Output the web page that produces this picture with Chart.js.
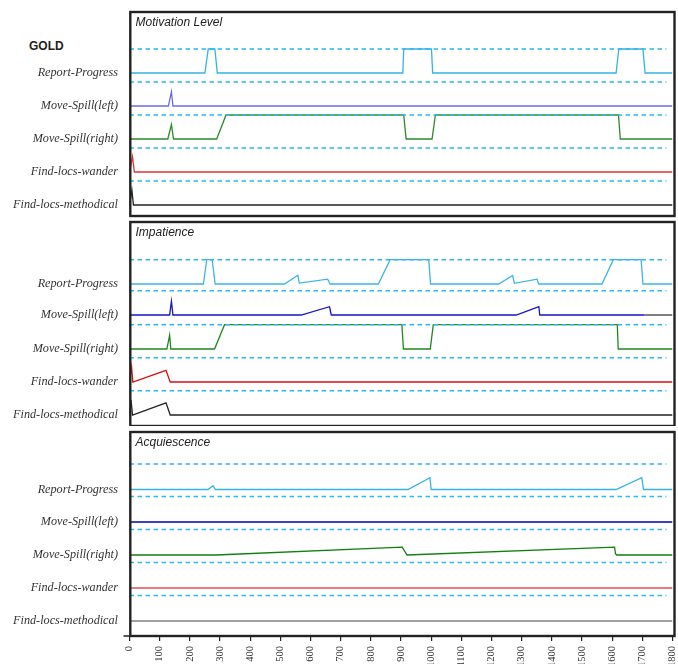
<!DOCTYPE html>
<html>
<head>
<meta charset="utf-8">
<script src="https://cdn.jsdelivr.net/npm/chart.js@4.4.1/dist/chart.umd.min.js"></script>
<style>
  html, body { margin: 0; padding: 0; background: #ffffff; }
  #wrap { position: relative; width: 678px; height: 664px; overflow: hidden; background: #fff; }
  canvas { position: absolute; left: 0; }
  #gold { position: absolute; left: 29px; top: 40px; font: bold 12px "Liberation Sans", Arial, sans-serif; color: #222; line-height: 13px; }
</style>
</head>
<body>
<div id="wrap">
  <div id="gold">GOLD</div>
  <canvas id="c1" width="678" height="219" style="top:0px"></canvas>
  <canvas id="c2" width="678" height="208" style="top:218px"></canvas>
  <canvas id="c3" width="678" height="238" style="top:426px"></canvas>
</div>
<script>
// ---------------- data ----------------
const ROW_NAMES = ['Report-Progress', 'Move-Spill(left)', 'Move-Spill(right)', 'Find-locs-wander', 'Find-locs-methodical'];
const PANEL_TITLES = ['Motivation Level', 'Impatience', 'Acquiescence'];
const X_TICKS = [0,100,200,300,400,500,600,700,800,900,1000,1100,1200,1300,1400,1500,1600,1700,1800];
const CEILING = 1;   // level of the dashed reference line of each row
const X_END = 1800;
const DASH_END = 1780;

// Motivation Level  ([time, level])
const motReport = [[0,0],[250,0],[261,1],[283,1],[291,0],[906,0],[909,1],[1001,1],[1005,0],[1613,0],[1622,1],[1702,1],[1709,0],[1800,0]];
const motLeft = [[0,0],[129,0],[139,0.6],[144,0],[1800,0]];
const motRight = [[0,0],[127,0],[139,0.6],[146,0],[289,0],[320,1],[909,1],[917,0],[1003,0],[1014,1],[1621,1],[1627,0],[1800,0]];
const motWander = [[0,0],[10,0.64],[16,0],[1800,0]];
const motMethodical = [[0,0],[8,0.62],[13,0],[1800,0]];

// Impatience
const impReport = [[0,0],[245,0],[256,1],[274,1],[284,0],[514,0],[558,0.36],[563,0.04],[657,0.2],[665,0],[825,0],[864,1],[992,1],[998,0],[1224,0],[1270,0.35],[1276,0.03],[1351,0.2],[1356,0],[1566,0],[1604,1],[1696,1],[1702,0],[1800,0]];
const impLeft = [[0,0],[133,0],[139,0.57],[144,0],[569,0],[663,0.34],[669,0],[1282,0],[1357,0.34],[1360,0],[1707,0]];
const impLeftTail = [[1707,0],[1800,0]];
const impRight = [[0,0],[124,0],[133,0.57],[137,0],[282,0],[315,1],[903,1],[908,0],[997,0],[1007,1],[1617,1],[1620,0],[1800,0]];
const impWander = [[0,0],[7,0.6],[11,0],[121,0.48],[135,0],[1800,0]];
const impMethodical = [[0,0],[5,0.62],[10,0],[121,0.5],[135,0],[1800,0]];

// Acquiescence
const acqReport = [[0,0],[260,0],[277,0.15],[285,0],[923,0],[996,0.46],[1000,0],[1613,0],[1698,0.46],[1704,0],[1800,0]];
const acqLeft = [[0,0],[1800,0]];
const acqRight = [[0,0],[287,0],[904,0.31],[920,0],[1608,0.31],[1611,0.05],[1615,0],[1800,0]];
const acqWander = [[0,0],[1800,0]];
const acqMethodical = [[0,0],[1800,0]];

// ---------------- layout / style ----------------
const PANELS = [
  { id: 'c1', title: PANEL_TITLES[0], padTop: 12, padBottom: 3, xAxis: false,
    bases: [143, 110, 77, 44, 11], amp: 24,
    series: [motReport, motLeft, motRight, motWander, motMethodical],
    colors: ['#35b2e6', '#6c6ce4', '#2a8a2a', '#e23232', '#222222'], extra: [] },
  { id: 'c2', title: PANEL_TITLES[1], padTop: 4, padBottom: 0, xAxis: false,
    bases: [142, 111, 77, 44, 11], amp: 24.3,
    series: [impReport, impLeft, impRight, impWander, impMethodical],
    colors: ['#3bb5e8', '#1414c8', '#1e881e', '#d81010', '#222222'],
    extra: [{ row: 1, data: impLeftTail, color: '#555555' }] },
  { id: 'c3', title: PANEL_TITLES[2], padTop: 6, padBottom: 0, xAxis: true,
    bases: [146.5, 114, 81, 48, 15], amp: 25.5,
    series: [acqReport, acqLeft, acqRight, acqWander, acqMethodical],
    colors: ['#35b2e6', '#0000b4', '#127f12', '#e05050', '#808080'], extra: [] }
];
const BOX_H = 204;
const DASH_COLOR = '#2fb8ef';

const boxPlugin = {
  id: 'panelBox',
  afterDatasetsDraw(chart, args, opts) {
    const a = chart.chartArea, ctx = chart.ctx;
    ctx.save();
    ctx.strokeStyle = '#222';
    ctx.lineWidth = 2.4;
    ctx.strokeRect(a.left + 0.8, a.top, (a.right + 2) - (a.left + 0.8), a.bottom - a.top);
    if (opts.leftTick) {
      ctx.lineWidth = 1.5;
      ctx.beginPath();
      ctx.moveTo(a.left - 6, a.bottom);
      ctx.lineTo(a.left, a.bottom);
      ctx.stroke();
    }
    ctx.fillStyle = '#222';
    ctx.font = 'italic 12px "Liberation Sans", Arial, sans-serif';
    ctx.textBaseline = 'middle';
    ctx.textAlign = 'left';
    ctx.fillText(opts.title, a.left + 6, a.top + 11);
    ctx.restore();
  }
};

function toPts(arr, base, amp) {
  return arr.map(p => ({ x: p[0], y: base + p[1] * amp }));
}

PANELS.forEach(P => {
  const datasets = [];
  // dashed reference lines
  P.bases.forEach((b, i) => {
    datasets.push({
      data: toPts([[0, CEILING], [DASH_END, CEILING]], b, P.amp),
      borderColor: DASH_COLOR, borderWidth: 1.4, borderDash: [4.5, 3.5],
      pointRadius: 0, tension: 0, fill: false
    });
  });
  // series
  P.series.forEach((s, i) => {
    datasets.push({
      data: toPts(s, P.bases[i], P.amp),
      borderColor: P.colors[i], borderWidth: 1.3,
      pointRadius: 0, tension: 0, fill: false
    });
  });
  P.extra.forEach(e => {
    datasets.push({
      data: toPts(e.data, P.bases[e.row], P.amp),
      borderColor: e.color, borderWidth: 1.3, pointRadius: 0, tension: 0, fill: false
    });
  });

  new Chart(document.getElementById(P.id), {
    type: 'line',
    data: { datasets },
    plugins: [boxPlugin],
    options: {
      responsive: false,
      animation: false,
      events: [],
      layout: { padding: { left: 0, right: 5.5, top: P.padTop, bottom: P.padBottom } },
      plugins: { legend: { display: false }, tooltip: { enabled: false }, title: { display: false },
                 panelBox: { title: P.title, leftTick: P.xAxis } },
      scales: {
        x: {
          type: 'linear', min: 0, max: X_END,
          display: P.xAxis,
          afterBuildTicks: s => { s.ticks = X_TICKS.map(v => ({ value: v })); },
          afterFit: s => {
            s.height = P.xAxis ? 28 : 0;
            s.paddingLeft = 0; s.paddingRight = 0; s.paddingTop = 0; s.paddingBottom = 0;
          },
          border: { display: false },
          grid: { drawOnChartArea: false, drawTicks: true, tickLength: 5, color: '#222', lineWidth: 1.2 },
          ticks: { autoSkip: false, maxRotation: 90, minRotation: 90, padding: 5, color: '#333',
                   font: { family: '"Liberation Serif", "Times New Roman", serif', size: 10.5 },
                   callback: v => String(v) }
        },
        y: {
          type: 'linear', min: 0, max: BOX_H,
          afterBuildTicks: s => { s.ticks = P.bases.map(v => ({ value: v })); },
          afterFit: s => {
            s.width = 129.5;
            s.paddingTop = 0; s.paddingBottom = 0; s.paddingLeft = 0; s.paddingRight = 0;
          },
          border: { display: false },
          grid: { display: false, drawTicks: false },
          ticks: {
            autoSkip: false, padding: 11.5, color: '#333',
            font: { family: '"Liberation Serif", "Times New Roman", serif', size: 12.2, style: 'italic' },
            callback: (v, i) => ROW_NAMES[i]
          }
        }
      }
    }
  });
});
</script>
</body>
</html>
